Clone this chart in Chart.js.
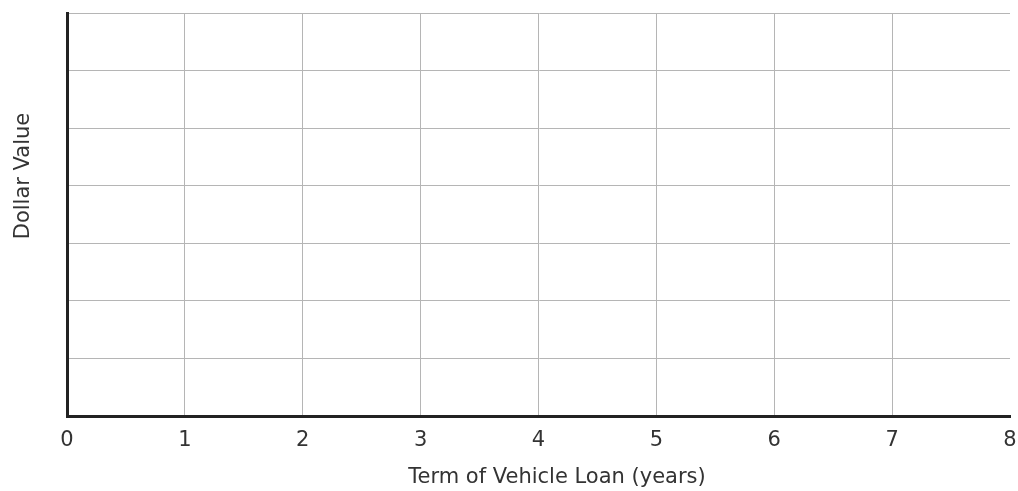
<!DOCTYPE html>
<html>
<head>
<meta charset="utf-8">
<script src="https://cdn.jsdelivr.net/npm/chart.js@4"></script>
<style>
  html, body { margin: 0; padding: 0; background: #fff; overflow: hidden; }
  #wrap { width: 1018px; height: 491px; }
</style>
</head>
<body>
<div id="wrap"><canvas id="myChart"></canvas></div>
<script>
// blank worksheet: axes and grid only, no values plotted yet
var loanYears = [0, 1, 2, 3, 4, 5, 6, 7, 8];
var dollarRows = [0, 1, 2, 3, 4, 5, 6, 7];
var loanValues = [];

var xTitle = 'Term of Vehicle Loan (years)';
var yTitle = 'Dollar Value';

var font = "'DejaVu Sans', sans-serif";

// both axis titles sit off-centre in the original, so draw them by hand
var axisTitlePlugin = {
    id: 'axisTitles',
    afterDraw: function (chart) {
        var c = chart.ctx;
        c.save();
        c.font = '21px ' + font;
        c.fillStyle = '#333';
        c.textAlign = 'center';
        c.textBaseline = 'middle';
        c.fillText(xTitle, 557, 478);
        c.translate(24, 176);
        c.rotate(-Math.PI / 2);
        c.fillText(yTitle, 0, 0);
        c.restore();
    }
};

var ctx = document.getElementById('myChart').getContext('2d');
var myChart = new Chart(ctx, {
    type: 'scatter',
    data: {
        datasets: [{
            label: 'Loan value',
            data: loanValues
        }]
    },
    options: {
        responsive: true,
        maintainAspectRatio: false,
        animation: false,
        layout: {
            padding: { top: 13, right: 8, bottom: 0, left: 0 }
        },
        plugins: {
            legend: { display: false },
            tooltip: { enabled: false }
        },
        scales: {
            x: {
                type: 'linear',
                min: loanYears[0],
                max: loanYears[loanYears.length - 1],
                afterBuildTicks: function (s) {
                    s.ticks = loanYears.map(function (v) { return { value: v }; });
                },
                afterFit: function (s) {
                    s.height = 75;
                    s.paddingRight = 0;
                    s.paddingLeft = 0;
                },
                grid: {
                    drawTicks: false,
                    color: function (c) {
                        return c.tick && c.tick.value === 8 ? 'rgba(0,0,0,0)' : '#b5b5b5';
                    },
                    lineWidth: 1
                },
                border: { color: '#222', width: 3 },
                ticks: {
                    padding: 12,
                    color: '#333',
                    font: { family: font, size: 21 }
                },
                title: { display: false, text: xTitle }
            },
            y: {
                type: 'linear',
                min: dollarRows[0],
                max: dollarRows[dollarRows.length - 1],
                afterBuildTicks: function (s) {
                    s.ticks = dollarRows.map(function (v) { return { value: v }; });
                },
                afterFit: function (s) { s.width = 67; },
                grid: {
                    drawTicks: false,
                    color: '#b5b5b5',
                    lineWidth: 1
                },
                border: { color: '#222', width: 3 },
                ticks: { display: false },
                title: { display: false, text: yTitle }
            }
        }
    },
    plugins: [axisTitlePlugin]
});
</script>
</body>
</html>
